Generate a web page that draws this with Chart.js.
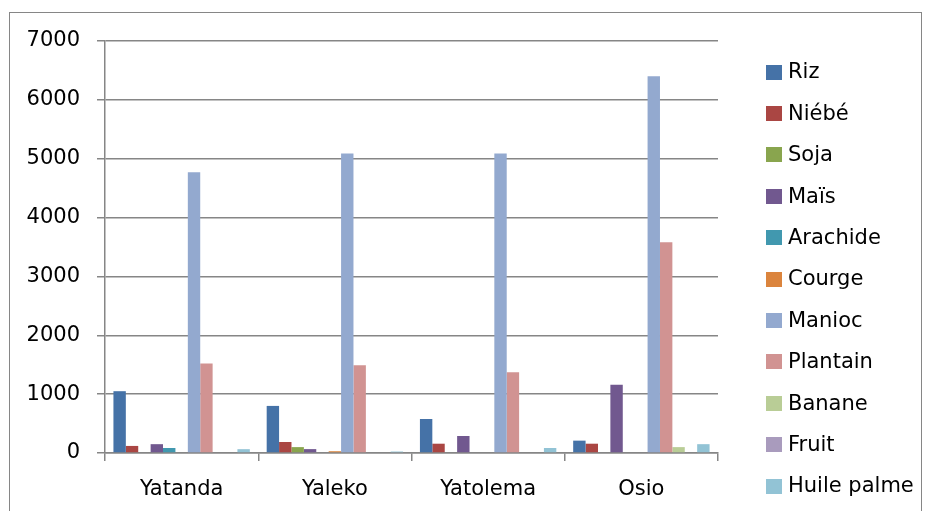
<!DOCTYPE html>
<html>
<head>
<meta charset="utf-8">
<script src="https://cdn.jsdelivr.net/npm/chart.js@4/dist/chart.umd.min.js"></script>
<style>
  html, body { margin: 0; padding: 0; background: #fff; }
  #wrap { position: relative; width: 925px; height: 511px; overflow: hidden; }
  #frame { position: absolute; left: 9px; top: 12px; width: 911px; height: 520px;
           border: 1px solid #868686; pointer-events: none; }
  canvas { position: absolute; left: 0; top: 0; }
</style>
</head>
<body>
<div id="wrap">
  <canvas id="c" width="925" height="511"></canvas>
  <div id="frame"></div>
</div>
<script>
// Villages (categories)
const villages = ['Yatanda', 'Yaleko', 'Yatolema', 'Osio'];

// Production per crop, one array per crop, in village order
const riz        = [1050, 800, 578, 210];
const niebe      = [120, 187, 158, 158];
const soja       = [0, 100, 0, 0];
const mais       = [150, 66, 289, 1160];
const arachide   = [85, 0, 0, 0];
const courge     = [0, 30, 0, 0];
const manioc     = [4770, 5090, 5090, 6400];
const plantain   = [1520, 1490, 1370, 3580];
const banane     = [0, 0, 0, 100];
const fruit      = [0, 0, 0, 0];
const huilePalme = [65, 25, 85, 150];

const cropNames = ['Riz', 'Niébé', 'Soja', 'Maïs', 'Arachide', 'Courge', 'Manioc',
                   'Plantain', 'Banane', 'Fruit', 'Huile palme'];
const cropValues = [riz, niebe, soja, mais, arachide, courge, manioc,
                    plantain, banane, fruit, huilePalme];
const cropColors = ['#4572A7', '#AA4643', '#89A54E', '#71588F', '#4198AF', '#DB843D',
                    '#93A9CF', '#D19392', '#B9CD96', '#A99BBD', '#92C3D5'];

// Y axis ticks
const yMin = 0, yMax = 7000, yStep = 1000;

const FONT = 'DejaVu Sans';
const GRID = '#868686';

// Legend drawn in the right margin, one row per crop
const sideLegend = {
  id: 'sideLegend',
  afterDraw(chart) {
    const ctx = chart.ctx;
    ctx.save();
    ctx.font = '21px "' + FONT + '"';
    ctx.textBaseline = 'middle';
    ctx.textAlign = 'left';
    chart.data.datasets.forEach((ds, i) => {
      const cy = 72 + i * 41.4;
      ctx.fillStyle = ds.backgroundColor;
      ctx.fillRect(766, Math.round(cy - 7.5), 16, 15);
      ctx.fillStyle = '#000';
      ctx.fillText(ds.label, 788, cy + 1);
    });
    ctx.restore();
  }
};

new Chart(document.getElementById('c'), {
  type: 'bar',
  data: {
    labels: villages,
    datasets: cropNames.map((name, i) => ({
      label: name,
      data: cropValues[i],
      backgroundColor: cropColors[i],
      borderWidth: 0,
      categoryPercentage: 0.89,
      barPercentage: 1.0
    }))
  },
  options: {
    responsive: false,
    animation: false,
    devicePixelRatio: 1,
    layout: { padding: { top: 41, right: 207, bottom: 0, left: 0 } },
    plugins: { legend: { display: false }, tooltip: { enabled: false } },
    scales: {
      x: {
        grid: { display: true, offset: true, drawOnChartArea: false, drawTicks: true,
                tickLength: 8, color: GRID, lineWidth: 1.5 },
        border: { display: true, color: GRID, width: 1.5 },
        ticks: { color: '#000', font: { family: FONT, size: 21 }, padding: 16 },
        afterFit(scale) { scale.height = 58; }
      },
      y: {
        min: yMin, max: yMax,
        grid: { color: GRID, lineWidth: 1.5, tickLength: 8, drawTicks: true },
        border: { display: true, color: GRID, width: 1.5 },
        ticks: { stepSize: yStep, color: '#000', font: { family: FONT, size: 21 }, padding: 17,
                 callback: (v) => String(v) },
        afterFit(scale) { scale.width = 105; }
      }
    }
  },
  plugins: [sideLegend]
});
</script>
</body>
</html>
